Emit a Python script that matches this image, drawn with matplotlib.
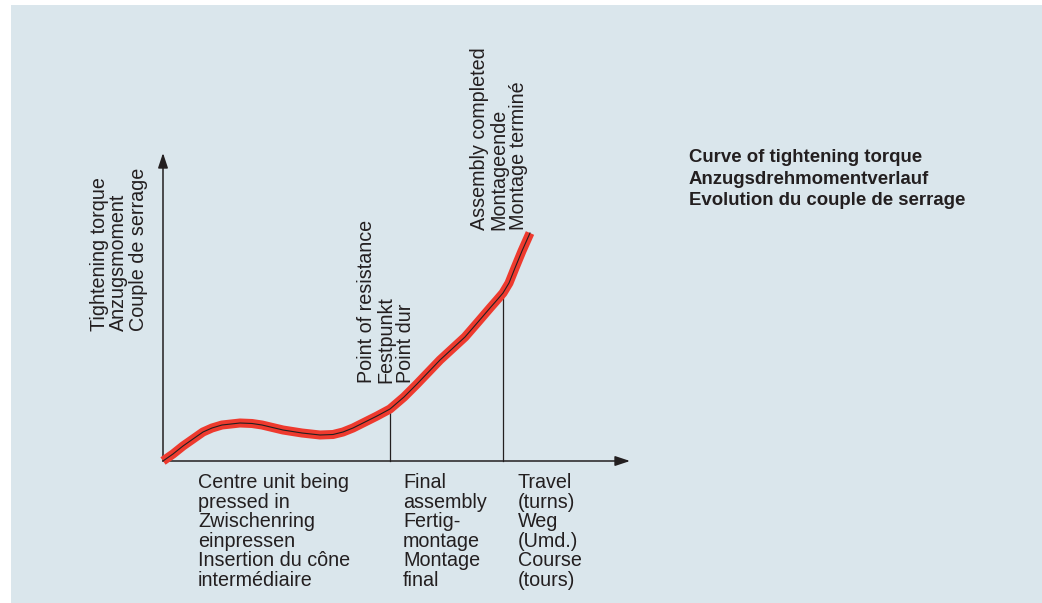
import matplotlib
matplotlib.use("Agg")
import matplotlib.pyplot as plt
from matplotlib.patches import Rectangle

plt.rcParams['font.family'] = ['Liberation Sans', 'DejaVu Sans']

# Kurve des Anzugsdrehmoments (willkuerliche Einheiten)
travel = [0, 10, 20, 30, 40, 49, 59, 77, 89, 99, 120, 139, 157, 170, 180,
          190, 200, 214, 227, 241, 254, 277, 302, 315, 327, 334, 340, 346,
          352, 359, 367]
torque = [0, 7, 15, 22, 29, 33, 36, 38, 37.5, 36, 31, 28, 26, 26.5, 29,
          33, 38, 45, 52, 64, 77, 101, 124, 139, 153, 161, 168, 178,
          193, 210, 228]

# Markierungen: Festpunkt und Montageende
resist_x, resist_y = 227, 52
done_x, done_y = 340, 168

x_axis_end = 467
y_axis_end = 308

ylabel_txt = "Tightening torque\nAnzugsmoment\nCouple de serrage"
resist_txt = "Point of resistance\nFestpunkt\nPoint dur"
done_txt = "Assembly completed\nMontageende\nMontage terminé"
phase1_txt = "Centre unit being\npressed in\nZwischenring\neinpressen\nInsertion du cône\nintermédiaire"
phase2_txt = "Final\nassembly\nFertig-\nmontage\nMontage\nfinal"
xlabel_txt = "Travel\n(turns)\nWeg\n(Umd.)\nCourse\n(tours)"
title_txt = "Curve of tightening torque\nAnzugsdrehmomentverlauf\nEvolution du couple de serrage"

ink = "#231f20"
bg = "#dae6ec"

fig = plt.figure(figsize=(10.42, 6.03), dpi=100)
fig.patch.set_facecolor("white")
ax = fig.add_axes([0, 0, 1, 1])
# Ursprung des Diagramms liegt bei Pixel (163, 461)
ax.set_xlim(-163, 1042 - 163)
ax.set_ylim(461 - 603, 461)
ax.axis("off")

ax.add_patch(Rectangle((11 - 163, 461 - 603), 1042, 598, facecolor=bg,
                       edgecolor="none", zorder=0))

# Achsen mit Pfeilen
arrow = dict(arrowstyle="-|>,head_length=0.9,head_width=0.3", color=ink,
             lw=1.1, shrinkA=0, shrinkB=0)
ax.annotate("", xy=(x_axis_end, 0), xytext=(0, 0), arrowprops=arrow, zorder=3)
ax.annotate("", xy=(0, y_axis_end), xytext=(0, 0), arrowprops=arrow, zorder=3)

# senkrechte Linien
ax.plot([resist_x, resist_x], [0, resist_y], color=ink, lw=0.9, zorder=2)
ax.plot([done_x, done_x], [0, done_y], color=ink, lw=0.9, zorder=2)

# Kurve
ax.plot(travel, torque, color="#ee3a2e", lw=6.5, solid_capstyle="butt",
        solid_joinstyle="round", zorder=4)
ax.plot(travel, torque, color=ink, lw=0.8, solid_joinstyle="round", zorder=5)

fs = 14.2
ax.text(-73, 130, ylabel_txt, rotation=90, ha="left", va="bottom",
        fontsize=fs, color=ink, linespacing=1.02)
ax.text(194, 78, resist_txt, rotation=90, ha="left", va="bottom",
        fontsize=fs, color=ink, linespacing=1.02)
ax.text(307, 231, done_txt, rotation=90, ha="left", va="bottom",
        fontsize=fs, color=ink, linespacing=1.02)

ax.text(35, -12, phase1_txt, ha="left", va="top", fontsize=fs, color=ink,
        linespacing=1.04)
ax.text(240, -12, phase2_txt, ha="left", va="top", fontsize=fs, color=ink,
        linespacing=1.04)
ax.text(355, -12, xlabel_txt, ha="left", va="top", fontsize=fs, color=ink,
        linespacing=1.04)

ax.text(526, 312, title_txt, ha="left", va="top", fontsize=13.4,
        fontweight="bold", color=ink, linespacing=1.36)

fig.savefig("out.png", dpi=100, facecolor=fig.get_facecolor())
